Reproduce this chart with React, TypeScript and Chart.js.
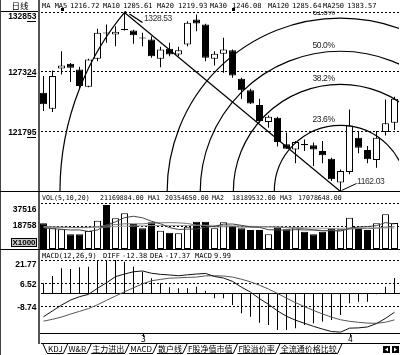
import React, { useEffect, useRef } from 'react';
import { Chart, registerables } from 'chart.js';

Chart.register(...registerables);

// ---------------- data ----------------
const DAYS = ['1', '2', '3', '4', '5', '6', '7', '8', '9', '10', '11', '12', '13', '14', '15', '16', '17', '18', '19', '20',
  '21', '22', '23', '24', '25', '26', '27', '28', '29', '30', '31', '32', '33', '34', '35', '36', '37', '38', '39', '40'];

const OPEN = [1254.0, 1239.0, 1276.5, 1280.9, 1275.6, 1259.5, 1285.5, 1310.0, 1308.1, 1312.3, 1311.8, 1305.3, 1303.4, 1285.5, 1294.8, 1289.5, 1298.8, 1322.0, 1317.4, 1285.5,
  1290.2, 1293.5, 1266.9, 1256.3, 1242.4, 1226.6, 1230.7, 1205.9, 1201.2, 1206.1, 1205.0, 1199.7, 1192.6, 1170.3, 1180.1, 1212.1, 1200.6, 1191.3, 1217.3, 1226.0];
const HIGH = [1269.4, 1274.6, 1292.6, 1281.5, 1278.1, 1285.5, 1313.4, 1317.4, 1315.8, 1328.53, 1312.5, 1309.7, 1306.5, 1296.7, 1300.4, 1296.7, 1320.4, 1326.7, 1318.0, 1292.6,
  1305.0, 1294.1, 1267.9, 1257.5, 1248.4, 1232.8, 1231.6, 1216.8, 1209.0, 1210.5, 1207.5, 1209.0, 1193.5, 1182.5, 1238.4, 1218.3, 1204.3, 1218.3, 1247.7, 1250.2];
const LOW = [1236.8, 1235.9, 1270.9, 1263.8, 1258.6, 1259.0, 1283.3, 1300.4, 1297.2, 1311.8, 1299.4, 1297.2, 1286.4, 1277.7, 1287.9, 1287.9, 1297.2, 1311.2, 1283.3, 1279.3,
  1272.5, 1267.9, 1248.4, 1243.5, 1226.0, 1221.4, 1203.8, 1201.5, 1188.2, 1199.7, 1185.7, 1188.2, 1171.8, 1162.03, 1178.0, 1197.5, 1188.2, 1184.2, 1214.2, 1219.2];
const CLOSE = [1243.1, 1269.4, 1279.3, 1277.2, 1260.1, 1284.9, 1309.7, 1309.0, 1310.6, 1313.3, 1307.4, 1304.3, 1287.9, 1294.1, 1289.5, 1293.5, 1318.9, 1318.3, 1286.4, 1290.2,
  1294.1, 1270.0, 1256.3, 1244.0, 1227.5, 1231.6, 1208.0, 1201.9, 1208.0, 1205.1, 1201.2, 1195.7, 1173.4, 1181.1, 1223.5, 1202.8, 1192.0, 1212.1, 1225.4, 1248.4];

// volume, in thousands (x1000)
const VOLUME = [20960, 16880, 16070, 11990, 11990, 14680, 23080, 35890, 25040, 29120, 20390, 16880, 21770, 14930, 13290, 12800, 18190, 22270, 22270, 16880,
  21770, 18760, 16880, 15500, 15500, 11990, 17700, 16070, 17700, 14110, 11990, 14110, 16880, 16070, 25530, 17370, 15500, 20960, 28300, 21170];
const VOL_MA5 = [17200, 16600, 16100, 15500, 15580, 14320, 15560, 19530, 22140, 25560, 26700, 25460, 22640, 20620, 17450, 15930, 16200, 16300, 17760, 18480,
  20280, 20390, 19310, 17960, 17680, 15730, 15510, 15350, 15790, 15510, 15510, 14800, 14960, 14630, 16920, 17990, 18270, 19090, 21530, 20355];
const VOL_MA10 = [18400, 18200, 17900, 17600, 17500, 17700, 18300, 19400, 19900, 20570, 20510, 20510, 21080, 21380, 21510, 21320, 20830, 19470, 19190, 17970,
  18110, 18290, 17800, 17860, 18080, 18000, 17950, 17330, 16880, 16600, 15620, 15160, 15160, 15210, 16220, 16750, 16530, 17020, 17880, 18190];
const VOL_MA20 = [17600, 17500, 17450, 17400, 17350, 17400, 17600, 18000, 18300, 18600, 18800, 18900, 19100, 19200, 19250, 19200, 19150, 19250, 19300, 19270,
  19100, 18950, 18700, 18500, 18350, 18100, 17950, 17750, 17550, 17280, 17050, 16900, 16850, 16800, 17150, 17200, 17150, 17100, 17200, 17079];

const MACD_HIST = [6.5, 11.3, 16.4, 15.9, 17.0, 17.4, 21.1, 21.8, 21.8, 20.7, 17.4, 14.1, 9.8, 6.5, 3.9, 3.3, 3.3, 4.3, 1.6, -3.3,
  -3.3, -7.7, -13.1, -15.3, -19.2, -20.7, -24.0, -24.0, -22.9, -20.7, -19.6, -18.5, -17.5, -14.2, -6.5, -5.5, -5.5, -0.6, 4.3, 9.99];
const DIFF = [-15.3, -11.5, -7.7, -4.4, -2.2, -0.7, 3.3, 6.9, 10.9, 12.6, 14.1, 14.6, 13.1, 12.4, 12.0, 11.5, 12.1, 12.6, 13.0, 11.0,
  10.0, 7.8, 4.0, 0.8, -3.5, -7.2, -11.5, -15.0, -17.6, -19.6, -21.6, -23.4, -25.0, -25.4, -22.8, -22.6, -22.0, -19.8, -16.4, -12.38];
const DEA = [-18.2, -17.0, -15.5, -13.6, -11.8, -10.0, -7.5, -4.6, -1.8, 1.0, 3.6, 6.2, 8.2, 9.1, 9.9, 10.1, 10.4, 10.6, 11.4, 11.5,
  11.3, 10.6, 9.2, 7.5, 5.3, 2.8, -0.1, -3.2, -6.1, -8.7, -11.2, -13.5, -15.6, -17.3, -18.3, -19.0, -19.5, -19.6, -18.9, -17.37];

const PRICE_TICKS = [1328.53, 1273.24, 1217.95];
const VOLUME_TICKS = [37516, 18758];
const MACD_TICKS = [21.77, 6.52, -8.74];
const MONTH_TICK_INDEX = [11, 34];
const MONTH_TICK_LABELS = ['3', '4'];

const FIB_RATIOS = [0.236, 0.382, 0.5, 0.618, 1];
const FIB_LABELS = ['23.6%', '38.2%', '50.0%', '61.8%', ''];
const PEAK_INDEX = 9;
const PEAK_VALUE = 1328.53;
const TROUGH_INDEX = 33;
const TROUGH_VALUE = 1162.03;

const PANEL_NAME = '日线';
const VOLUME_UNIT = 'X1000';
const PRICE_TITLE = ['MA MA5', '1216.72', 'MA10', '1205.61', 'MA20', '1219.93', 'MA30', '1246.08', 'MA120', '1285.64', 'MA250', '1383.57'];
const VOLUME_TITLE = ['VOL(5,10,20)', '21169884.00', 'MA1', '20354650.00', 'MA2', '18189532.00', 'MA3', '17078648.00'];
const MACD_TITLE = ['MACD(12,26,9)', 'DIFF', '-12.38', 'DEA', '-17.37', 'MACD', '9.99'];
const TAB_NAMES = ['KDJ', 'W&R', '主力进出', 'MACD', '散户线', 'F股净值市值', 'F股溢价率', '全流通价格比较'];

// ---------------- layout ----------------
const PRICE_TITLE_X = [42, 70, 103, 123, 157, 178, 210, 232, 268, 292, 323, 347];
const VOLUME_TITLE_X = [42, 100, 148, 165, 212, 232, 280, 298];
const MACD_TITLE_X = [42, 103, 122, 150, 165, 195, 214];
const LABEL_FONT = 'bold 8.5px "Liberation Sans", Arial, sans-serif';
const SANS = '"Liberation Sans", Arial, sans-serif';
const CJK = '"Noto Sans CJK SC", sans-serif';
const LABEL_RIGHT = 36.5;

const UP = CLOSE.map((c, i) => c >= OPEN[i]);

function baseOptions(min: number, max: number, padTop: number, padBottom: number): any {
  return {
    animation: false,
    responsive: false,
    maintainAspectRatio: false,
    devicePixelRatio: 1,
    events: [],
    layout: { padding: { left: 39, right: 1, top: padTop, bottom: padBottom } },
    plugins: { legend: { display: false }, tooltip: { enabled: false } },
    scales: {
      x: { type: 'category', offset: true, display: false },
      y: { type: 'linear', min, max, display: false },
    },
  };
}

function drawDotted(chart: any, values: number[]) {
  const { ctx, chartArea } = chart;
  const y = chart.scales.y;
  ctx.save();
  ctx.strokeStyle = '#000';
  ctx.lineWidth = 1;
  ctx.setLineDash([2, 2]);
  values.forEach((v) => {
    const py = Math.floor(y.getPixelForValue(v)) + 0.5;
    ctx.beginPath();
    ctx.moveTo(chartArea.left + 2, py);
    ctx.lineTo(chart.width, py);
    ctx.stroke();
  });
  ctx.restore();
}

function drawLeftLabels(chart: any, values: number[], texts: string[], dys: number[], underline: boolean) {
  const { ctx } = chart;
  const y = chart.scales.y;
  ctx.save();
  ctx.font = LABEL_FONT;
  ctx.textAlign = 'right';
  ctx.textBaseline = 'middle';
  ctx.fillStyle = '#000';
  values.forEach((v, i) => {
    const py = y.getPixelForValue(v) + dys[i];
    ctx.fillText(texts[i], LABEL_RIGHT, py);
    if (underline) {
      const w2 = ctx.measureText(texts[i].slice(-2)).width;
      ctx.fillRect(Math.round(LABEL_RIGHT - w2), Math.round(py + 4), Math.round(w2), 1);
    }
  });
  ctx.restore();
}

function drawTitle(chart: any, tokens: string[], xs: number[], baseline: number, size: number) {
  const { ctx } = chart;
  ctx.save();
  ctx.font = size + 'px "DejaVu Sans Mono", monospace';
  ctx.fillStyle = '#000';
  ctx.textAlign = 'left';
  ctx.textBaseline = 'alphabetic';
  tokens.forEach((t, i) => ctx.fillText(t, xs[i], baseline));
  ctx.restore();
}

function drawFrame(chart: any, bottomRule: number | null, sepBottom: number) {
  const { ctx } = chart;
  ctx.save();
  ctx.fillStyle = '#555';
  ctx.fillRect(38, 0, 2, sepBottom);
  ctx.fillStyle = '#444';
  ctx.fillRect(0, 0, 1, chart.height);
  if (bottomRule !== null) {
    ctx.fillStyle = '#000';
    ctx.fillRect(0, bottomRule, chart.width, 1);
  }
  ctx.restore();
}

const pricePlugin = {
  id: 'pricePanel',
  beforeDatasetsDraw(chart: any) {
    drawDotted(chart, PRICE_TICKS);
  },
  afterDatasetsDraw(chart: any) {
    const { ctx, chartArea: a } = chart;
    const x = chart.scales.x;
    const y = chart.scales.y;
    const px = x.getPixelForValue(PEAK_INDEX);
    const py = y.getPixelForValue(PEAK_VALUE);
    const cx = x.getPixelForValue(TROUGH_INDEX);
    const cy = y.getPixelForValue(TROUGH_VALUE);
    const d = Math.hypot(cx - px, cy - py);
    ctx.save();
    ctx.beginPath();
    ctx.rect(a.left, a.top, a.right - a.left, a.bottom - a.top);
    ctx.clip();
    ctx.strokeStyle = '#000';
    ctx.lineWidth = 1.2;
    FIB_RATIOS.forEach((r) => {
      ctx.beginPath();
      ctx.arc(cx, cy, d * r, Math.PI, 2 * Math.PI);
      ctx.stroke();
    });
    ctx.beginPath();
    ctx.moveTo(px, py);
    ctx.lineTo(cx, cy);
    ctx.stroke();
    ctx.font = '8.5px ' + SANS;
    ctx.fillStyle = '#222';
    ctx.textAlign = 'left';
    ctx.textBaseline = 'bottom';
    (ctx as any).letterSpacing = '-0.4px';
    FIB_RATIOS.forEach((r, i) => {
      if (!FIB_LABELS[i]) return;
      ctx.fillText(FIB_LABELS[i], cx - 28, cy - d * r - 1);
    });
    ctx.lineWidth = 1.4;
    ctx.beginPath();
    ctx.moveTo(px + 5, py + 1.5);
    ctx.lineTo(px + 18, py + 10);
    ctx.stroke();
    ctx.lineWidth = 1;
    ctx.beginPath();
    ctx.moveTo(cx + 1, cy - 1);
    ctx.lineTo(cx + 16, cy - 8);
    ctx.stroke();
    ctx.textBaseline = 'middle';
    ctx.fillStyle = '#333';
    ctx.fillText(PEAK_VALUE.toFixed(2), px + 19.5, py + 6);
    ctx.fillText(TROUGH_VALUE.toFixed(2), cx + 16.5, cy - 9.5);
    ctx.restore();
  },
  afterDraw(chart: any) {
    const { ctx } = chart;
    drawTitle(chart, PRICE_TITLE, PRICE_TITLE_X, 8, 7);
    ctx.save();
    ctx.fillStyle = '#000';
    ctx.fillRect(61, 8, 3, 3);
    ctx.fillRect(232, 8, 3, 3);
    ctx.font = '8.5px ' + CJK;
    ctx.textAlign = 'center';
    ctx.textBaseline = 'middle';
    ctx.fillText(PANEL_NAME, 20, 5.5);
    ctx.fillRect(0, 11, 39, 1);
    ctx.restore();
    drawLeftLabels(chart, PRICE_TICKS, PRICE_TICKS.map((v) => (v * 100).toFixed(0)), [4, 0.5, 1.5], true);
    drawFrame(chart, 191, chart.height);
  },
};

const volumePlugin = {
  id: 'volumePanel',
  beforeDatasetsDraw(chart: any) {
    drawDotted(chart, VOLUME_TICKS);
  },
  afterDraw(chart: any) {
    const { ctx } = chart;
    drawTitle(chart, VOLUME_TITLE, VOLUME_TITLE_X, 7.5, 6.6);
    drawLeftLabels(chart, VOLUME_TICKS, VOLUME_TICKS.map((v) => String(v)), [7, -0.5], false);
    ctx.save();
    ctx.fillStyle = '#c8c8c8';
    ctx.fillRect(11, 46, 26, 9);
    ctx.strokeStyle = '#000';
    ctx.lineWidth = 1;
    ctx.strokeRect(11.5, 46.5, 25, 8);
    ctx.fillStyle = '#000';
    ctx.font = 'bold 8px ' + SANS;
    ctx.textAlign = 'center';
    ctx.textBaseline = 'middle';
    ctx.fillText(VOLUME_UNIT, 24, 51);
    ctx.restore();
    drawFrame(chart, 57, chart.height);
  },
};

const macdPlugin = {
  id: 'macdPanel',
  beforeDatasetsDraw(chart: any) {
    drawDotted(chart, MACD_TICKS);
    const { ctx, chartArea: a } = chart;
    const zero = Math.floor(chart.scales.y.getPixelForValue(0));
    ctx.save();
    ctx.fillStyle = '#000';
    ctx.fillRect(a.left + 2, zero, chart.width - a.left - 2, 1);
    ctx.restore();
  },
  afterDraw(chart: any) {
    const { ctx, chartArea: a } = chart;
    const x = chart.scales.x;
    drawTitle(chart, MACD_TITLE, MACD_TITLE_X, 7.5, 7);
    drawLeftLabels(chart, MACD_TICKS, MACD_TICKS.map((v) => v.toFixed(2)), [4.5, 1.7, 1.3], false);
    ctx.save();
    ctx.fillStyle = '#000';
    ctx.fillRect(a.left + 1, 83, chart.width - a.left - 1, 1);
    ctx.font = '8px "DejaVu Sans Mono", monospace';
    ctx.textAlign = 'center';
    ctx.textBaseline = 'middle';
    MONTH_TICK_INDEX.forEach((idx, k) => {
      const px = Math.round(x.getPixelForValue(idx));
      ctx.fillRect(px, 84, 1, 3);
      ctx.fillText(MONTH_TICK_LABELS[k], px + 0.5, 89.5);
    });
    const t = 94;
    const b = 103;
    ctx.strokeStyle = '#000';
    ctx.lineWidth = 1;
    ctx.beginPath();
    ctx.moveTo(41, t - 0.5);
    ctx.lineTo(chart.width, t - 0.5);
    ctx.stroke();
    ctx.font = '8px ' + CJK;
    ctx.textAlign = 'left';
    let xx = 43;
    ctx.beginPath();
    ctx.moveTo(xx, t);
    ctx.lineTo(xx + 4, b);
    ctx.stroke();
    xx += 5;
    TAB_NAMES.forEach((name) => {
      const w = ctx.measureText(name).width;
      ctx.fillText(name, xx, (t + b) / 2 + 0.5);
      const start = xx - 1;
      xx += w + 1;
      ctx.beginPath();
      ctx.moveTo(start, b + 0.5);
      ctx.lineTo(xx, b + 0.5);
      ctx.moveTo(xx, b);
      ctx.lineTo(xx + 4, t);
      ctx.stroke();
      xx += 5;
    });
    ctx.fillRect(383, 96, 7, 7);
    ctx.fillRect(392, 96, 7, 7);
    ctx.fillStyle = '#fff';
    ctx.beginPath();
    ctx.moveTo(385, 99.5);
    ctx.lineTo(388, 97.5);
    ctx.lineTo(388, 101.5);
    ctx.closePath();
    ctx.fill();
    ctx.beginPath();
    ctx.moveTo(397, 99.5);
    ctx.lineTo(394, 97.5);
    ctx.lineTo(394, 101.5);
    ctx.closePath();
    ctx.fill();
    ctx.restore();
    drawFrame(chart, null, 94);
  },
};

export default function App() {
  const priceRef = useRef<HTMLCanvasElement>(null);
  const volRef = useRef<HTMLCanvasElement>(null);
  const macdRef = useRef<HTMLCanvasElement>(null);

  useEffect(() => {
    const charts: Chart[] = [];
    const upColor = UP.map((u) => (u ? '#fff' : '#000'));

    if (priceRef.current) {
      charts.push(new Chart(priceRef.current, {
        type: 'bar',
        data: {
          labels: DAYS,
          datasets: [
            {
              type: 'bar',
              data: CLOSE.map((c, i) => [Math.min(OPEN[i], c), Math.max(OPEN[i], c)]),
              backgroundColor: upColor,
              borderColor: '#000',
              borderWidth: 1,
              borderSkipped: false,
              barThickness: 7,
              grouped: false,
              inflateAmount: 0,
              order: 0,
            } as any,
            {
              type: 'bar',
              data: HIGH.map((h, i) => [LOW[i], h]),
              backgroundColor: '#000',
              borderWidth: 0,
              barThickness: 1,
              grouped: false,
              inflateAmount: 0,
              order: 1,
            } as any,
          ],
        },
        options: baseOptions(1161.565, 1329.93, 11, 0),
        plugins: [pricePlugin],
      }));
    }

    if (volRef.current) {
      const line = (data: number[], color: string, order: number): any => ({
        type: 'line', data, borderColor: color, borderWidth: 1, pointRadius: 0, tension: 0, order,
      });
      charts.push(new Chart(volRef.current, {
        type: 'bar',
        data: {
          labels: DAYS,
          datasets: [
            {
              type: 'bar',
              data: VOLUME,
              backgroundColor: upColor,
              borderColor: '#000',
              borderWidth: 1,
              borderSkipped: false,
              barThickness: 7,
              grouped: false,
              inflateAmount: 0,
              order: 5,
            } as any,
            line(VOL_MA5, '#444', 0),
            line(VOL_MA10, '#777', 1),
            line(VOL_MA20, '#999', 2),
          ],
        },
        options: baseOptions(0, 39150, 9, 1),
        plugins: [volumePlugin],
      }));
    }

    if (macdRef.current) {
      charts.push(new Chart(macdRef.current, {
        type: 'bar',
        data: {
          labels: DAYS,
          datasets: [
            {
              type: 'bar',
              data: MACD_HIST,
              backgroundColor: '#000',
              borderWidth: 0,
              barThickness: 1,
              grouped: false,
              inflateAmount: 0,
              order: 5,
            } as any,
            { type: 'line', data: DIFF, borderColor: '#111', borderWidth: 1, pointRadius: 0, tension: 0, order: 0 } as any,
            { type: 'line', data: DEA, borderColor: '#555', borderWidth: 1, pointRadius: 0, tension: 0, order: 1 } as any,
          ],
        },
        options: baseOptions(-25.96, 23.09, 8, 22),
        plugins: [macdPlugin],
      }));
    }

    return () => charts.forEach((c) => c.destroy());
  }, []);

  const cs = (top: number, h: number): React.CSSProperties => ({
    position: 'absolute', left: 0, top, width: 400, height: h, display: 'block',
  });

  return (
    <div style={{ position: 'absolute', left: 0, top: 0, width: 400, height: 355, background: '#fff', overflow: 'hidden' }}>
      <canvas ref={priceRef} width={400} height={192} style={cs(0, 192)} />
      <canvas ref={volRef} width={400} height={58} style={cs(192, 58)} />
      <canvas ref={macdRef} width={400} height={105} style={cs(250, 105)} />
    </div>
  );
}
